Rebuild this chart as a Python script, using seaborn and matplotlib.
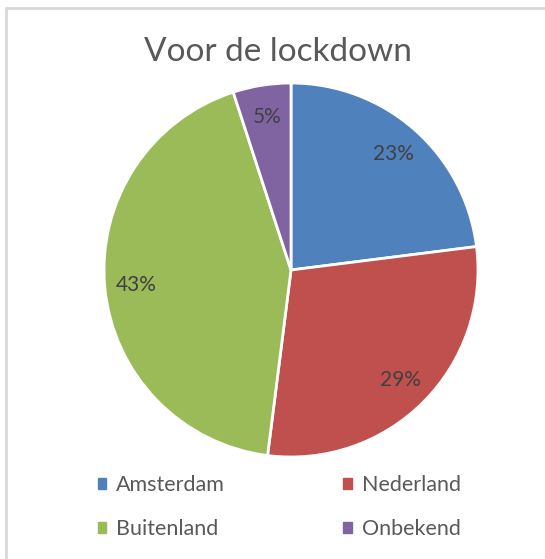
import matplotlib
matplotlib.use("Agg")
import matplotlib.pyplot as plt
import seaborn as sns
from matplotlib.patches import Patch
from matplotlib.lines import Line2D

sns.set_style("white")
plt.rcParams['font.family'] = ['Lato', 'DejaVu Sans']

# data
title = "Voor de lockdown"
categories = ["Amsterdam", "Nederland", "Buitenland", "Onbekend"]
shares = [23, 29, 43, 5]
colors = ["#4F81BD", "#C0504D", "#9BBB59", "#8064A2"]

W, H = 545, 559
fig = plt.figure(figsize=(W / 100, H / 100), dpi=100)
fig.patch.set_facecolor("white")

# frame of the chart (only top and left edges visible)
fig.add_artist(Line2D([5.5 / W, 1], [1 - 8 / H, 1 - 8 / H], color="#d9d9d9", lw=2))
fig.add_artist(Line2D([5.5 / W, 5.5 / W], [0, 1 - 8 / H], color="#d9d9d9", lw=2))

# pie axes, centre ~ (291, 270) px, radius ~ 187 px
cx, cy, r = 291, 270, 187
ax = fig.add_axes([(cx - r) / W, (H - cy - r) / H, 2 * r / W, 2 * r / H])
wedges, texts, autotexts = ax.pie(
    shares, colors=colors, startangle=90, counterclock=False,
    autopct=lambda p: f"{p:.0f}%", pctdistance=0.83, radius=1,
    wedgeprops=dict(edgecolor="white", linewidth=2),
    textprops=dict(color="#404040", fontsize=15),
)
ax.set_xlim(-1, 1)
ax.set_ylim(-1, 1)
ax.set_aspect("equal")
ax.axis("off")

fig.text(278 / W, 1 - 52 / H, title, ha="center", va="center",
         fontsize=24, color="#595959")

# legend fills column by column, so order it to read row by row
order = [0, 2, 1, 3]
handles = [Patch(facecolor=colors[i], edgecolor=colors[i]) for i in order]
labels = [categories[i] for i in order]
fig.legend(handles, labels, ncol=2, loc="center left",
           bbox_to_anchor=(87 / W, 1 - 507 / H), frameon=False,
           fontsize=15.5, labelcolor="#595959",
           handlelength=0.4, handleheight=0.4, handletextpad=0.45,
           columnspacing=5.5, labelspacing=1.12, borderpad=0)

fig.savefig("out.png", dpi=100, facecolor="white")
